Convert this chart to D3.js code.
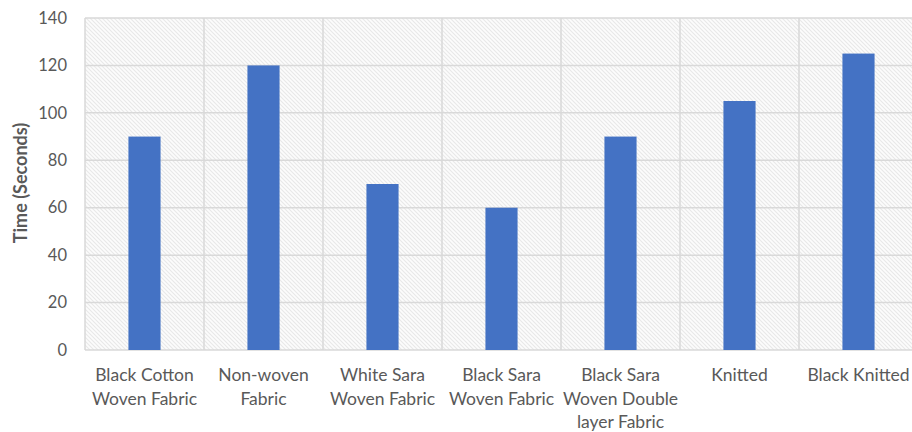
<!DOCTYPE html>
<html>
<head>
<meta charset="utf-8">
<script src="https://cdn.jsdelivr.net/npm/d3@7/dist/d3.min.js"></script>
<style>
  html, body { margin: 0; padding: 0; background: #fff; }
  svg { display: block; }
</style>
</head>
<body>
<svg id="chart" width="912" height="432"></svg>
<script>
// Fabric types (wrapped label lines) and measured times
const categories = [
  ["Black Cotton", "Woven Fabric"],
  ["Non-woven", "Fabric"],
  ["White Sara", "Woven Fabric"],
  ["Black Sara", "Woven Fabric"],
  ["Black Sara", "Woven Double", "layer Fabric"],
  ["Knitted"],
  ["Black Knitted"]
];
const times = [90, 120, 70, 60, 90, 105, 125];
const yTicks = [0, 20, 40, 60, 80, 100, 120, 140];
const yTitle = "Time (Seconds)";

const svg = d3.select("#chart");
const margin = { left: 85, top: 18, right: 918, bottom: 350 };
const font = "Lato, 'Open Sans', sans-serif";

const x = d3.scaleBand()
  .domain(d3.range(categories.length))
  .range([margin.left, margin.right])
  .paddingInner(0).paddingOuter(0);
const y = d3.scaleLinear().domain([0, 140]).range([margin.bottom, margin.top]);

// Diagonal hatch fill for the plot area
const defs = svg.append("defs");
const pat = defs.append("pattern")
  .attr("id", "hatch")
  .attr("patternUnits", "userSpaceOnUse")
  .attr("width", 4).attr("height", 4);
pat.append("rect").attr("width", 4).attr("height", 4).attr("fill", "#fcfcfc");
pat.append("path")
  .attr("d", "M-1,-1 L5,5 M-1,3 L1,5 M3,-1 L5,1")
  .attr("stroke", "#e8e8e8").attr("stroke-width", 1.1);

svg.append("rect")
  .attr("x", margin.left).attr("y", margin.top)
  .attr("width", margin.right - margin.left)
  .attr("height", margin.bottom - margin.top)
  .attr("fill", "url(#hatch)");

// Horizontal gridlines
svg.append("g")
  .selectAll("line").data(yTicks).join("line")
  .attr("x1", margin.left).attr("x2", margin.right)
  .attr("y1", d => y(d)).attr("y2", d => y(d))
  .attr("stroke", "#d9d9d9").attr("stroke-width", 1.5);

// Vertical gridlines at category boundaries
const bounds = d3.range(categories.length + 1).map(i => margin.left + i * x.bandwidth());
svg.append("g")
  .selectAll("line").data(bounds).join("line")
  .attr("x1", d => d).attr("x2", d => d)
  .attr("y1", margin.top).attr("y2", margin.bottom)
  .attr("stroke", "#d9d9d9").attr("stroke-width", 1.5);

// Bars
const barW = x.bandwidth() * 0.27;
svg.append("g")
  .selectAll("rect").data(times).join("rect")
  .attr("x", (d, i) => x(i) + (x.bandwidth() - barW) / 2)
  .attr("width", barW)
  .attr("y", d => y(d))
  .attr("height", d => y(0) - y(d))
  .attr("fill", "#4472c4");

// Y axis tick labels
const yAxis = d3.axisLeft(y).tickValues(yTicks).tickSize(0).tickPadding(18);
const gy = svg.append("g").attr("transform", `translate(${margin.left},0)`).call(yAxis);
gy.select(".domain").remove();
gy.selectAll("text")
  .attr("font-family", font).attr("font-size", 16.5).attr("fill", "#595959");

// X axis category labels (multi-line)
const gx = svg.append("g");
categories.forEach((lines, i) => {
  const t = gx.append("text")
    .attr("x", x(i) + x.bandwidth() / 2)
    .attr("y", 381)
    .attr("text-anchor", "middle")
    .attr("font-family", font).attr("font-size", 17.5).attr("fill", "#595959");
  lines.forEach((ln, j) => {
    t.append("tspan").attr("x", x(i) + x.bandwidth() / 2).attr("dy", j === 0 ? 0 : 23.5).text(ln);
  });
});

// Y axis title
svg.append("text")
  .attr("transform", `translate(27,${(margin.top + margin.bottom) / 2 - 1}) rotate(-90)`)
  .attr("text-anchor", "middle")
  .attr("font-family", font).attr("font-size", 18).attr("font-weight", "bold")
  .attr("fill", "#595959")
  .text(yTitle);
</script>
</body>
</html>
